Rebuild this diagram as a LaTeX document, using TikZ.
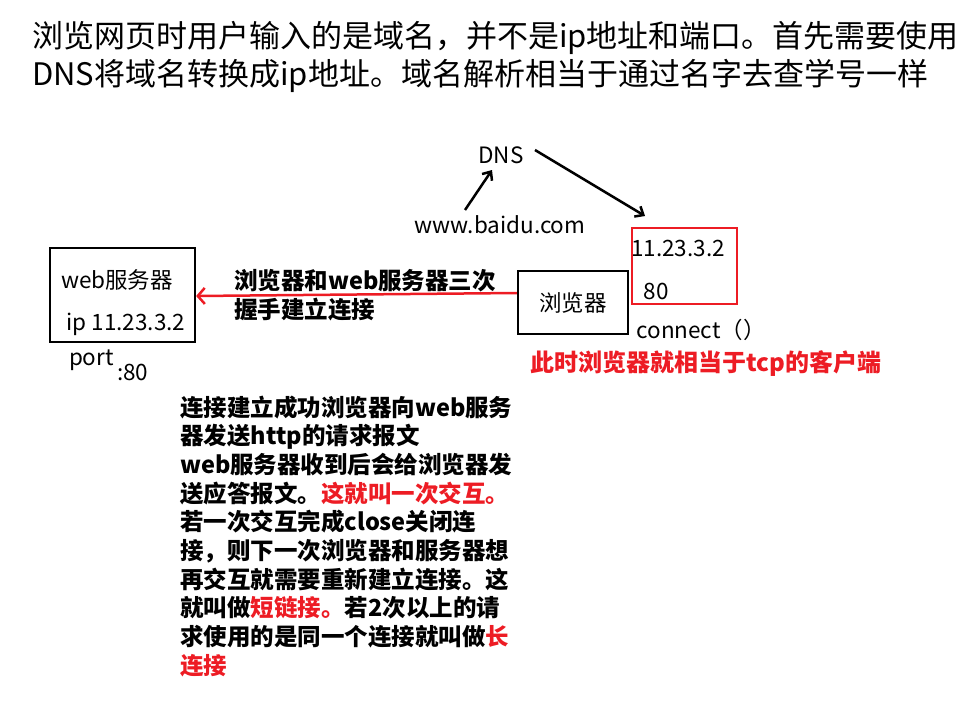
\documentclass[tikz,border=0pt]{standalone}
\usepackage{fontspec}
\setmainfont{Noto Sans CJK SC}
\usetikzlibrary{arrows.meta}
\definecolor{myred}{RGB}{237,28,36}
\begin{document}
\begin{tikzpicture}[x=1pt,y=-1pt,
  txt/.style={inner sep=0pt,anchor=west},
  title/.style={txt,font=\fontsize{31}{31}\selectfont},
  lbl/.style={inner sep=0pt,font=\fontsize{22.5}{22.5}\selectfont},
  para/.style={txt,font=\fontsize{23.5}{23.5}\selectfont\bfseries},
  box/.style={draw,line width=2.2pt},
  hand/.style={line width=2.5pt,-{Straight Barb[length=7pt,width=12pt]}}]
\useasboundingbox (0,0) rectangle (976,701);
% title
\node[title] (t1) at (32,38) {浏览网页时用户输入的是域名，并不是ip地址和端口。首先需要使用};
\node[title] (t2) at (32,76) {DNS将域名转换成ip地址。域名解析相当于通过名字去查学号一样};
% DNS part
\node[lbl] (dns) at (501,155) {DNS};
\node[lbl] (www) at (500,225) {www.baidu.com};
\coordinate (a1s) at (465,210);
\coordinate (a1e) at (492,170);
\draw[hand] (a1s) -- (a1e);
\coordinate (a2s) at (535,150);
\coordinate (a2e) at (645,216);
\draw[hand] (a2s) -- (a2e);
% red box
\draw[draw=myred,line width=2.2pt] (632,228) rectangle (737,304);
\node[lbl] (ip) at (678,248) {11.23.3.2};
\node[lbl] (port2) at (656,291) {80};
% browser
\node[box,minimum width=110pt,minimum height=63pt,font=\fontsize{22.5}{22.5}\selectfont] (br) at (573,302.5) {浏览器};
\node[lbl] (conn) at (701,330) {connect（）};
\node[txt,font=\fontsize{24}{24}\selectfont\bfseries,text=myred] (tcp) at (530,364) {此时浏览器就相当于tcp的客户端};
% web server
\node[box,minimum width=145pt,minimum height=94pt] (ws) at (122.5,295) {};
\node[lbl] (wsl) at (117,280) {web服务器};
\node[lbl] (wsip) at (126,324) {ip 11.23.3.2};
\node[lbl,anchor=east] (port) at (114,360) {port};
\node[lbl,anchor=west] (p80) at (117,372) {:80};
% handshake arrow
\draw[myred,line width=2.5pt,-{Straight Barb[length=7pt,width=16pt]}] (br.west |- 0,293) -- (ws.east |- 0,296);
\node[txt,font=\fontsize{23.5}{23.5}\selectfont\bfseries] (hs1) at (234,281) {浏览器和web服务器三次};
\node[txt,font=\fontsize{23.5}{23.5}\selectfont\bfseries] (hs2) at (234,310) {握手建立连接};
% paragraph
\node[para] (p1) at (180,408) {连接建立成功浏览器向web服务};
\node[para] (p2) at (180,437) {器发送http的请求报文};
\node[para] (p3) at (180,465) {web服务器收到后会给浏览器发};
\node[para] (p4) at (180,494) {送应答报文。\textcolor{myred}{这就叫一次交互。}};
\node[para] (p5) at (180,522) {若一次交互完成close关闭连};
\node[para] (p6) at (180,551) {接，则下一次浏览器和服务器想};
\node[para] (p7) at (180,580) {再交互就需要重新建立连接。这};
\node[para] (p8) at (180,608) {就叫做\textcolor{myred}{短链接。}若2次以上的请};
\node[para] (p9) at (180,637) {求使用的是同一个连接就叫做\textcolor{myred}{长}};
\node[para,text=myred] (p10) at (180,666) {连接};
\end{tikzpicture}
\end{document}
